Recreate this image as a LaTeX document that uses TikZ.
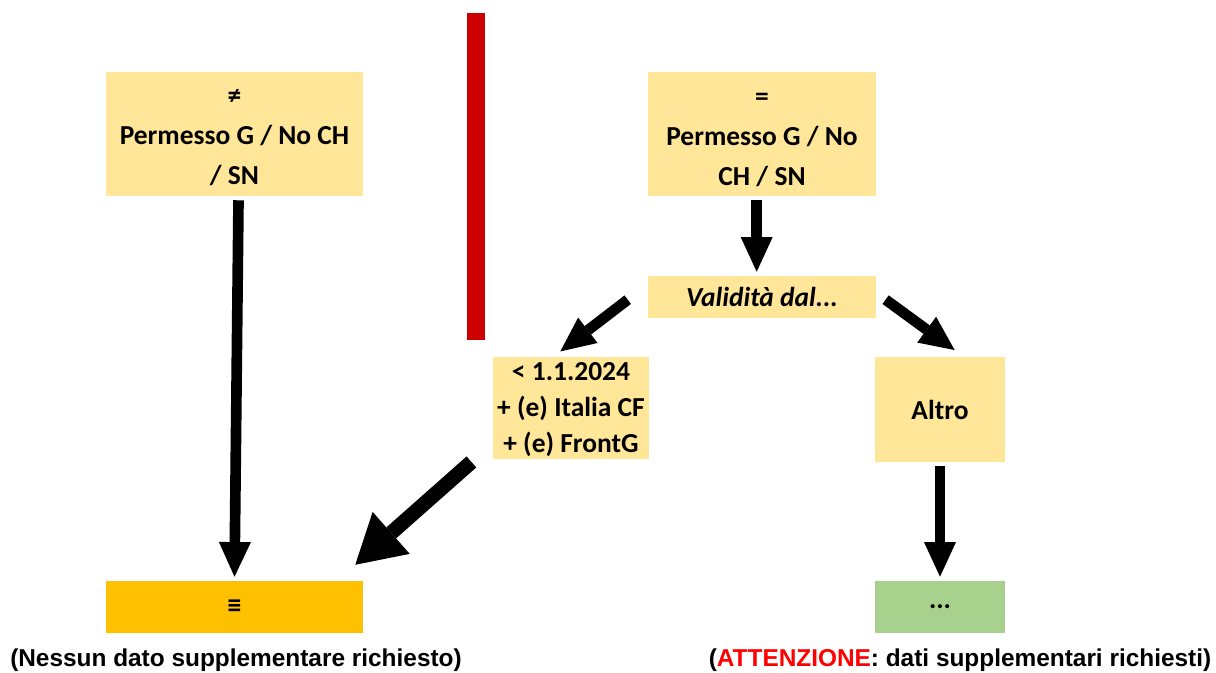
\documentclass[tikz,border=0pt]{standalone}
\usepackage{fontspec}
\setmainfont{Carlito}
\newfontfamily\capfont{Liberation Sans}
\usetikzlibrary{arrows.meta}

\definecolor{boxyellow}{RGB}{255,230,153}
\definecolor{boxorange}{RGB}{255,192,0}
\definecolor{boxgreen}{RGB}{169,209,142}
\definecolor{barred}{RGB}{204,0,0}
\definecolor{attred}{RGB}{255,0,0}

\newcommand{\toplift}[1]{\rule{0pt}{#1}}

\begin{document}
\begin{tikzpicture}[x=0.75pt,y=0.75pt,yscale=-1,xscale=1,
  box/.style={fill=#1,inner sep=0.75pt,align=center,font=\bfseries\fontsize{20.6}{30}\selectfont},
  fatarrow/.style={line width=8pt,-{Triangle[width=24pt,length=26pt,line width=0pt]}},
  hugearrow/.style={line width=11pt,-{Triangle[width=42pt,length=36pt,line width=0pt]}},
  caption/.style={inner sep=0pt,font=\capfont\bfseries\fontsize{18.3}{22}\selectfont}]
\useasboundingbox (0,0) rectangle (1216,672);

%Shape: Rectangle red bar
\fill [barred] (467,13) rectangle (485,340);

% Text Node
\node (neq) at (234.5,134) [box=boxyellow,minimum width=192.75pt,minimum height=93pt] {\toplift{17pt}≠\\Permesso G / No CH\\/ SN};

% Text Node
\node (eq) at (762,134) [box=boxyellow,minimum width=171pt,minimum height=93pt] {\toplift{18pt}=\\Permesso G / No\\CH / SN};

% Text Node
\node (valid) at (762,297) [box=boxyellow,minimum width=171pt,minimum height=31.5pt] {\itshape Validità dal...};

% Text Node
\node (before) at (571,408) [box=boxyellow,inner ysep=0pt,minimum width=117pt,minimum height=76.5pt,font=\bfseries\fontsize{20.6}{27}\selectfont] {\toplift{16.5pt}< 1.1.2024\\+ (e) Italia CF\\+ (e) FrontG};

% Text Node
\node (altro) at (940,409.5) [box=boxyellow,minimum width=97.5pt,minimum height=78.75pt] {Altro};

% Text Node
\node (equiv) at (234.5,607) [box=boxorange,minimum width=192.75pt,minimum height=39pt] {≡};

% Text Node
\node (dots) at (940,607) [box=boxgreen,minimum width=97.5pt,minimum height=39pt] {...};

% Text Node
\node (capleft) at (236,660) [caption] {(Nessun dato supplementare richiesto)};

% Text Node
\node (capright) at (960,660) [caption] {(\textcolor{attred}{ATTENZIONE}: dati supplementari richiesti)};

%Arrows (yscale=-1: positive yshift goes down)
\draw [fatarrow] ([xshift=3pt,yshift=3pt]neq.south) -- ([yshift=-3pt]equiv.north);
\draw [fatarrow] ([xshift=-4pt,yshift=3pt]eq.south) -- ([xshift=-4pt,yshift=-3pt]valid.north);
\draw [fatarrow] ([xshift=-15pt,yshift=2pt]valid.west) -- ([xshift=-8pt,yshift=-4pt]before.north);
\draw [fatarrow] ([xshift=7pt,yshift=2pt]valid.east) -- ([xshift=11pt,yshift=-5pt]altro.north);
\draw [fatarrow] ([yshift=3pt]altro.south) -- ([yshift=-3pt]dots.north);
\draw [hugearrow] ([xshift=-16pt,yshift=2pt]before.south west) -- ([xshift=-6pt,yshift=-12pt]equiv.north east);

\end{tikzpicture}
\end{document}
